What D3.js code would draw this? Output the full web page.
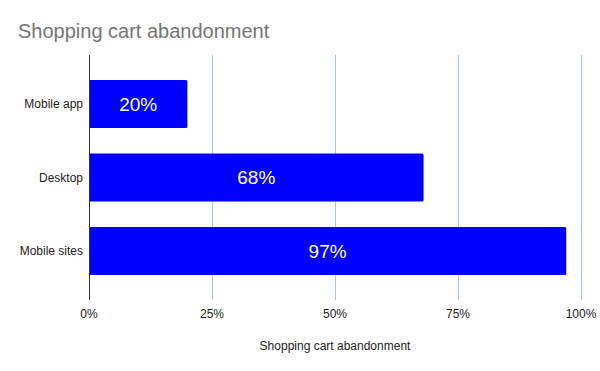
<!DOCTYPE html>
<html>
<head>
<meta charset="utf-8">
<script src="https://cdn.jsdelivr.net/npm/d3@7"></script>
<style>
  body { margin: 0; background: #fff; }
  text { font-family: "Liberation Sans", Arial, sans-serif; }
</style>
</head>
<body>
<svg id="chart" width="600" height="371"></svg>
<script>
// chart data
var categories = ["Mobile app", "Desktop", "Mobile sites"];
var values = [0.20, 0.68, 0.97];
var tickValues = [0, 0.25, 0.5, 0.75, 1];

var svg = d3.select("#chart");
var plotLeft = 89, plotRight = 581, plotTop = 55, plotBottom = 300;

var x = d3.scaleLinear().domain([0, 1]).range([plotLeft, plotRight]);
var y = d3.scaleBand().domain(categories).range([plotTop, plotBottom])
    .paddingInner(0.347).paddingOuter(0.34);

// title
svg.append("text")
    .attr("x", 18).attr("y", 38)
    .attr("font-size", 20)
    .attr("fill", "#757575")
    .text("Shopping cart abandonment");

// gridlines
svg.append("g")
    .selectAll("line")
    .data(tickValues.slice(1))
    .enter().append("line")
    .attr("x1", function(d) { return Math.floor(x(d)) + 0.5; })
    .attr("x2", function(d) { return Math.floor(x(d)) + 0.5; })
    .attr("y1", plotTop).attr("y2", plotBottom)
    .attr("stroke", "#a4c2f4")
    .attr("stroke-width", 1);

// bars
var fmt = d3.format(".0%");
var bars = svg.append("g").selectAll("g")
    .data(values)
    .enter().append("g");

bars.append("path")
    .attr("d", function(d, i) {
        var x0 = x(0), x1 = x(d), y0 = y(categories[i]), h = y.bandwidth(), r = 1.5;
        return "M" + x0 + "," + y0 +
            "H" + (x1 - r) + "Q" + x1 + "," + y0 + " " + x1 + "," + (y0 + r) +
            "V" + (y0 + h - r) + "Q" + x1 + "," + (y0 + h) + " " + (x1 - r) + "," + (y0 + h) +
            "H" + x0 + "Z";
    })
    .attr("fill", "#0000ff");

bars.append("text")
    .attr("x", function(d) { return (x(0) + x(d)) / 2; })
    .attr("y", function(d, i) { return y(categories[i]) + y.bandwidth() / 2; })
    .attr("dy", "0.35em")
    .attr("text-anchor", "middle")
    .attr("font-size", 19)
    .attr("fill", "#ffffff")
    .text(function(d) { return fmt(d); });

// category labels
svg.append("g")
    .selectAll("text")
    .data(categories)
    .enter().append("text")
    .attr("x", 83)
    .attr("y", function(d) { return y(d) + y.bandwidth() / 2; })
    .attr("dy", "0.35em")
    .attr("text-anchor", "end")
    .attr("font-size", 12)
    .attr("fill", "#222222")
    .text(function(d) { return d; });

// left axis line
svg.append("line")
    .attr("x1", plotLeft + 0.5).attr("x2", plotLeft + 0.5)
    .attr("y1", plotTop).attr("y2", plotBottom)
    .attr("stroke", "#333333")
    .attr("stroke-width", 1);

// x tick labels
svg.append("g")
    .selectAll("text")
    .data(tickValues)
    .enter().append("text")
    .attr("x", function(d) { return x(d); })
    .attr("y", 318)
    .attr("text-anchor", "middle")
    .attr("font-size", 12)
    .attr("fill", "#222222")
    .text(function(d) { return fmt(d); });

// axis title
svg.append("text")
    .attr("x", (plotLeft + plotRight) / 2)
    .attr("y", 350)
    .attr("text-anchor", "middle")
    .attr("font-size", 12)
    .attr("fill", "#222222")
    .text("Shopping cart abandonment");
</script>
</body>
</html>
